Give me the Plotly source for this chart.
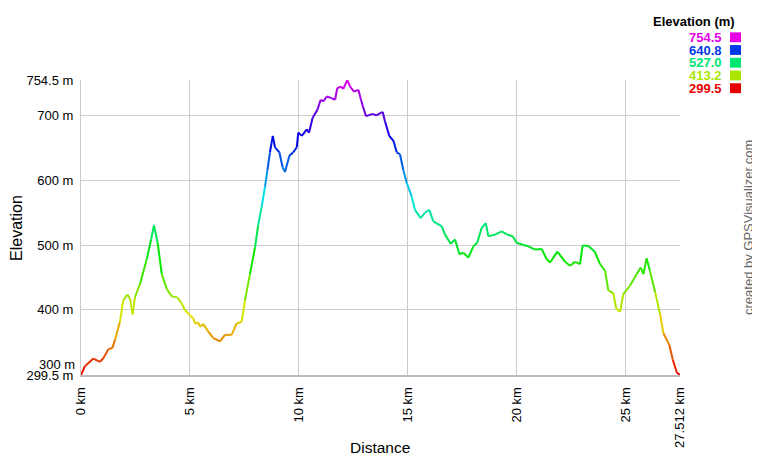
import colorsys
import plotly.graph_objects as go

# ---- data ----
dist_km = [0.00, 0.18, 0.57, 0.87, 1.03, 1.26, 1.44, 1.56, 1.79, 1.94, 2.13, 2.25, 2.37, 2.48, 2.71,
           3.02, 3.22, 3.35, 3.52, 3.71, 3.94, 4.17, 4.40, 4.59, 4.78, 5.00, 5.16, 5.24, 5.38, 5.47,
           5.62, 5.85, 6.08, 6.38, 6.61, 6.92, 7.15, 7.38, 7.53, 7.76, 7.99, 8.14, 8.30, 8.45, 8.56,
           8.68, 8.81, 8.91, 9.11, 9.26, 9.37, 9.57, 9.75, 9.91, 9.98, 10.14, 10.37, 10.47, 10.64,
           10.86, 11.01, 11.13, 11.29, 11.51, 11.67, 11.77, 11.93, 12.05, 12.23, 12.36, 12.54, 12.74,
           12.86, 12.97, 13.09, 13.40, 13.56, 13.86, 13.96, 14.16, 14.35, 14.50, 14.65, 14.81, 14.96,
           15.19, 15.34, 15.60, 15.80, 16.00, 16.18, 16.57, 16.72, 16.98, 17.18, 17.38, 17.56, 17.79,
           18.02, 18.20, 18.40, 18.59, 18.71, 19.02, 19.32, 19.58, 19.83, 20.01, 20.32, 20.55, 20.85,
           21.16, 21.39, 21.54, 21.88, 22.23, 22.46, 22.69, 22.92, 23.04, 23.30, 23.60, 23.84, 24.07,
           24.22, 24.45, 24.58, 24.76, 24.91, 25.22, 25.52, 25.71, 25.83, 25.98, 26.13, 26.37, 26.59,
           26.75, 27.02, 27.18, 27.37, 27.512]
elev_m = [299.5, 313, 324.8, 319.7, 325.7, 339.4, 341, 353.7, 381.6, 414.5, 423.7, 417, 393, 419.6, 440,
          478, 508.4, 530.3, 503.4, 455, 432.3, 420.7, 419.6, 412, 399.4, 391.8, 386.6, 379, 380.5, 374,
          378, 366.4, 356.3, 351.2, 361.4, 361.4, 379, 381.6, 414.5, 455, 495.7, 531, 559.2, 589.7, 615,
          643, 668.3, 650.5, 643, 620, 612.5, 637.8, 643, 650.5, 673.4, 668.3, 678.4, 673, 696.2,
          708.8, 724, 721.5, 729, 726.6, 724, 741.8, 744.3, 740.8, 754.5, 744.3, 736.7, 739.3,
          724, 711.4, 698.7, 702.3, 700, 705.3, 691, 668.3, 660.7, 643, 640, 615, 596,
          574.5, 554.2, 541.4, 550, 554.2, 536.4, 528.8, 516, 502, 508.4, 485.8, 488, 480.5,
          498, 503.4, 526.2, 533.8, 513.5, 516, 521, 516, 513.5, 503.4, 500, 498, 493,
          494, 478, 473, 489.7, 474.5, 468, 474, 470.5, 499.4, 498.4, 489.7, 470.5, 460.3,
          430, 425.7, 402, 397, 424.7, 437.5, 455, 465.3, 455, 479.5, 460.3, 427.3, 394.3,
          364, 346, 323.3, 303, 299.5]

y_tick_vals = [299.5, 300, 400, 500, 600, 700, 754.5]
y_tick_text = ["299.5 m", "", "400 m", "500 m", "600 m", "700 m", "754.5 m"]
x_tick_vals = [0, 5, 10, 15, 20, 25, 27.512]
x_tick_text = ["0 km", "5 km", "10 km", "15 km", "20 km", "25 km", "27.512 km"]
legend_vals = ["754.5", "640.8", "527.0", "413.2", "299.5"]
legend_elev = [754.5, 640.8, 527.0, 413.2, 299.5]

E_MIN, E_MAX = 299.5, 754.5
FONT = "Liberation Sans, Arial, sans-serif"


def elev_color(e):
    frac = (e - E_MIN) / (E_MAX - E_MIN)
    frac = min(max(frac, 0), 1)
    r, g, b = colorsys.hsv_to_rgb(frac * 300 / 360, 1.0, 0.9)
    return "rgb(%d,%d,%d)" % (round(r * 255), round(g * 255), round(b * 255))


fig = go.Figure()
for i in range(len(dist_km) - 1):
    fig.add_trace(go.Scatter(
        x=[dist_km[i], dist_km[i + 1]], y=[elev_m[i], elev_m[i + 1]],
        mode="lines", line=dict(color=elev_color((elev_m[i] + elev_m[i + 1]) / 2), width=2),
        showlegend=False, hoverinfo="skip"))

# page body has an 8px margin; window-pixel layout: plot area x 81..680, y 80..379
OFF = 8
W, H = 760 - OFF, 460 - OFF
L, R, T, B = 81 - OFF, 80, 80 - OFF, 81
pw, ph = W - L - R, H - T - B


def px(xw):
    return (xw - OFF - L) / pw


def py(yw):
    return (H - B - (yw - OFF)) / ph


annotations = [
    dict(text="Elevation", x=px(17), y=py(230), xref="paper", yref="paper", showarrow=False,
         textangle=-90, font=dict(size=16, color="#000"), xanchor="center", yanchor="middle",
         borderpad=0),
    dict(text="Distance", x=px(380), y=py(452), xref="paper", yref="paper", showarrow=False,
         font=dict(size=15.5, color="#000"), xanchor="center", yanchor="middle"),
    dict(text="300 m", x=0, y=300, xref="paper", yref="y", showarrow=False, xanchor="right",
         yanchor="middle", xshift=-4, yshift=10, font=dict(size=13, color="#000")),
    dict(text="created by GPSVisualizer.com", x=px(749), y=py(230), xref="paper", yref="paper",
         showarrow=False, textangle=-90, font=dict(size=13, color="#666"),
         xanchor="center", yanchor="middle"),
    dict(text="<b>Elevation (m)</b>", x=px(737), y=py(21), xref="paper", yref="paper",
         showarrow=False, xanchor="right", yanchor="middle", font=dict(size=13, color="#000")),
]
shapes = []
for k, (lbl, ev) in enumerate(zip(legend_vals, legend_elev)):
    yc = 36.7 + k * 12.9
    col = elev_color(ev)
    annotations.append(dict(text="<b>%s</b>" % lbl, x=px(724), y=py(yc), xref="paper", yref="paper",
                            showarrow=False, xanchor="right", yanchor="middle",
                            font=dict(size=13, color=col)))
    shapes.append(dict(type="rect", xref="paper", yref="paper", x0=px(730), x1=px(741),
                       y0=py(yc + 5), y1=py(yc - 5), fillcolor=col, line=dict(width=0)))

fig.update_layout(
    width=W, height=H, margin=dict(l=L, r=R, t=T, b=B),
    paper_bgcolor="white", plot_bgcolor="white",
    font=dict(family=FONT, size=13, color="#000"),
    annotations=annotations, shapes=shapes,
    xaxis=dict(range=[0, 27.512], tickvals=x_tick_vals, ticktext=x_tick_text, tickangle=-90,
               showgrid=True, gridcolor="#CCCCCC", gridwidth=1, zeroline=False,
               showline=True, linecolor="#BBBBBB", linewidth=2, ticks="",
               ticklabelstandoff=5, tickfont=dict(size=13, color="#000")),
    yaxis=dict(range=[E_MIN, E_MAX], tickvals=y_tick_vals, ticktext=y_tick_text,
               showgrid=True, gridcolor="#CCCCCC", gridwidth=1, zeroline=False,
               showline=True, linecolor="#CCCCCC", linewidth=1, ticks="",
               ticklabelstandoff=4, tickfont=dict(size=13, color="#000")),
)

fig.write_html("out.html")
